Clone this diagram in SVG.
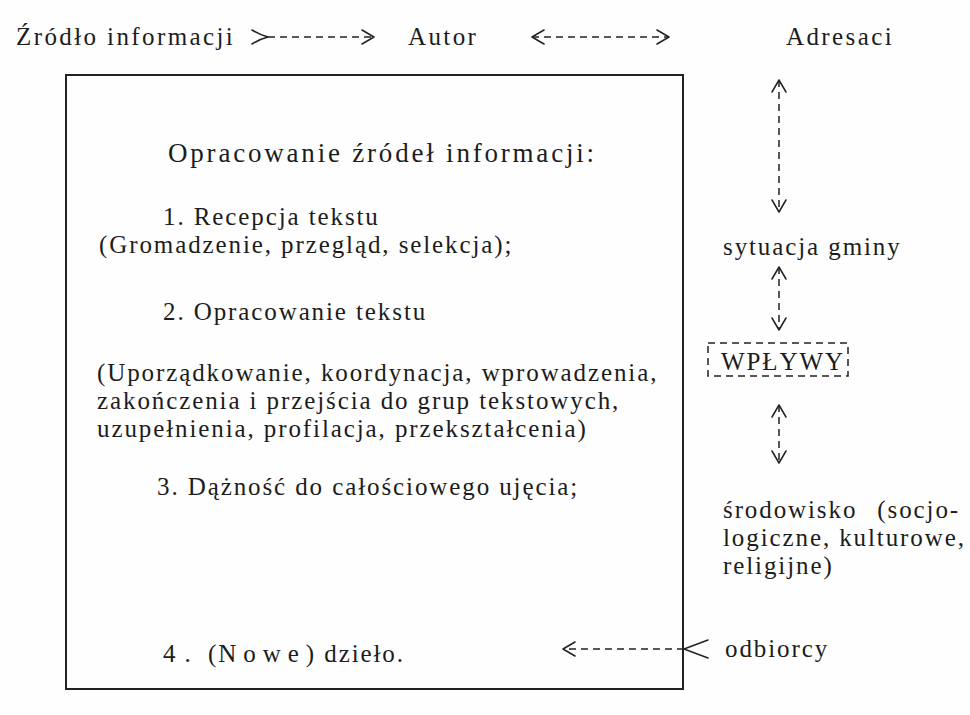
<svg xmlns="http://www.w3.org/2000/svg" width="970" height="715" viewBox="0 0 970 715">
<style>
text { font-family: "Liberation Serif", "Times New Roman", serif; font-size: 25px; fill: #1c1c1c; letter-spacing: 1.9px; }
.top { letter-spacing: 2.4px; }
.head { font-size: 27px; letter-spacing: 2.8px; }
.conn { fill: none; stroke: #222; stroke-width: 1.5; stroke-dasharray: 7 5; }
.box { fill: none; stroke: #222; stroke-width: 2; }
.dbox { fill: none; stroke: #222; stroke-width: 1.5; stroke-dasharray: 7 5; }
.ah { fill: none; stroke: #222; stroke-width: 1.5; stroke-dasharray: none; stroke-linecap: round; stroke-linejoin: round; }
</style>
<defs>
<marker id="head" viewBox="0 0 14 16" refX="13" refY="8" markerWidth="14" markerHeight="16" markerUnits="userSpaceOnUse" orient="auto-start-reverse"><path class="ah" d="M1,1 L13,8 L1,15"/></marker>
<marker id="tail" viewBox="0 0 18 16" refX="17" refY="8" markerWidth="18" markerHeight="16" markerUnits="userSpaceOnUse" orient="auto"><path class="ah" d="M1,1 Q9,6 17,8 Q9,10 1,15"/></marker>
<marker id="tailw" viewBox="0 0 26 20" refX="25" refY="10" markerWidth="26" markerHeight="20" markerUnits="userSpaceOnUse" orient="auto"><path class="ah" d="M1,1 L25,10 L1,19"/></marker>
</defs>
<rect width="970" height="715" fill="#fefefe"/>

<g id="n-zrodlo"><text class="top" x="16" y="45">Źródło informacji</text></g>
<g id="n-autor"><text class="top" x="408" y="45">Autor</text></g>
<g id="n-adresaci"><text class="top" x="786" y="45">Adresaci</text></g>

<g id="n-opracowanie">
<rect class="box" x="66" y="75" width="617" height="614"/>
<text class="head" x="168" y="162">Opracowanie źródeł informacji:</text>
<text x="163" y="225">1. Recepcja tekstu</text>
<text x="99" y="253">(Gromadzenie, przegląd, selekcja);</text>
<text x="163" y="320">2. Opracowanie tekstu</text>
<text x="97" y="381">(Uporządkowanie, koordynacja, wprowadzenia,</text>
<text x="97" y="409">zakończenia i przejścia do grup tekstowych,</text>
<text x="97" y="437">uzupełnienia, profilacja, przekształcenia)</text>
<text x="157" y="495">3. Dążność do całościowego ujęcia;</text>
<text x="163" y="662"><tspan letter-spacing="9">4.</tspan> (<tspan letter-spacing="7">Nowe</tspan>) dzieło.</text>
</g>

<g id="n-sytuacja"><text x="723" y="255">sytuacja gminy</text></g>
<g id="n-wplywy">
<rect class="dbox" x="708" y="343" width="140" height="33"/>
<text x="721" y="370" letter-spacing="1.5">WPŁYWY</text>
</g>
<g id="n-srodowisko">
<text x="723" y="518">środowisko<tspan dx="20">(socjo-</tspan></text>
<text x="723" y="546">logiczne, kulturowe,</text>
<text x="723" y="574">religijne)</text>
</g>
<g id="n-odbiorcy"><text x="725" y="657">odbiorcy</text></g>

<g id="connectors">
<path class="conn" d="M268,37 L374,37" marker-start="url(#tail)" marker-end="url(#head)"/>
<path class="conn" d="M532,37 L669,37" marker-start="url(#head)" marker-end="url(#head)"/>
<path class="conn" d="M779,80 L779,212" marker-start="url(#head)" marker-end="url(#head)"/>
<path class="conn" d="M779,267 L779,330" marker-start="url(#head)" marker-end="url(#head)"/>
<path class="conn" d="M779,405 L779,463" marker-start="url(#head)" marker-end="url(#head)"/>
<path class="conn" d="M684,649 L563,649" marker-start="url(#tailw)" marker-end="url(#head)"/>
</g>
</svg>
